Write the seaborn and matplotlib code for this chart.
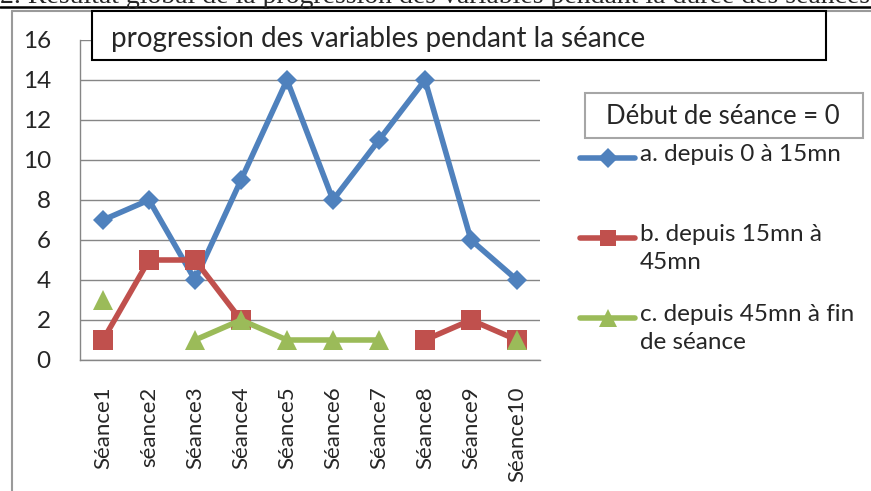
import numpy as np
import pandas as pd
import matplotlib
matplotlib.use('Agg')
import matplotlib.pyplot as plt
import seaborn as sns
from matplotlib.lines import Line2D
from matplotlib.patches import Rectangle

# data
seances = ['Séance1', 'séance2', 'Séance3', 'Séance4', 'Séance5',
           'Séance6', 'Séance7', 'Séance8', 'Séance9', 'Séance10']
serie_a = [7, 8, 4, 9, 14, 8, 11, 14, 6, 4]
serie_b = [1, 5, 5, 2, None, None, None, 1, 2, 1]
serie_c = [3, None, 1, 2, 1, 1, 1, None, None, 1]
noms = ['a. depuis 0 à 15mn', 'b. depuis 15mn à\n45mn', 'c. depuis 45mn à fin\nde séance']

couleurs = ['#4F81BD', '#C0504D', '#9BBB59']
marqueurs = ['D', 's', '^']
tailles = [10, 14, 15]

W, H = 871, 491
sns.set_style('white')
plt.rcParams['font.family'] = ['Lato', 'DejaVu Sans']


def fx(px):
    return px / W


def fy(py):
    return 1 - py / H


fig = plt.figure(figsize=(W / 100, H / 100), dpi=100)
ax = fig.add_axes([fx(80), fy(360), fx(540) - fx(80), fy(40) - fy(360)])

# one long table, segment ids split lines where values are missing
frames = []
for nom, vals in zip(noms, [serie_a, serie_b, serie_c]):
    d = pd.DataFrame({'x': np.arange(len(seances)), 'val': pd.array(vals, dtype='Float64').astype(float)})
    d['seg'] = d['val'].isna().cumsum()
    d['serie'] = nom
    frames.append(d.dropna())
df = pd.concat(frames, ignore_index=True)

for i, nom in enumerate(noms):
    sns.lineplot(data=df[df['serie'] == nom], x='x', y='val', units='seg', estimator=None,
                 color=couleurs[i], marker=marqueurs[i], markersize=tailles[i],
                 markeredgewidth=0, linewidth=4, ax=ax, zorder=3 + i, legend=False)

ax.set_xlim(-0.5, len(seances) - 0.5)
ax.set_ylim(0, 16)
ax.set_yticks(range(0, 17, 2))
ax.set_xticks(range(len(seances)))
ax.set_xticklabels(seances, rotation=90, fontsize=16)
ax.set_xticks(np.arange(-0.5, len(seances), 1), minor=True)
ax.tick_params(axis='x', which='major', length=0, pad=19)
ax.tick_params(axis='x', which='minor', length=8, width=1, color='#868686', direction='out')
ax.tick_params(axis='y', length=8, width=1, color='#868686', direction='out', pad=13, labelsize=17.5)
ax.set_xlabel('')
ax.set_ylabel('')
ax.grid(axis='y', color='#868686', linewidth=1)
ax.set_axisbelow(True)
for s in ['top', 'right']:
    ax.spines[s].set_visible(False)
for s in ['left', 'bottom']:
    ax.spines[s].set_color('#868686')
    ax.spines[s].set_linewidth(1)

# outer chart frame
fig.add_artist(Line2D([fx(12), fx(12)], [fy(11), 0], color='#9a9a9a', linewidth=1.5))
fig.add_artist(Line2D([fx(12), 1], [fy(11), fy(11)], color='#9a9a9a', linewidth=1.5))

# title box
fig.add_artist(Rectangle((fx(92), fy(60)), fx(826) - fx(92), fy(11) - fy(60),
                         facecolor='white', edgecolor='black', linewidth=1.5, zorder=10))
fig.text(fx(111), fy(39), 'progression des variables pendant la séance', fontsize=20,
         va='center', ha='left', zorder=11)

# page heading cut off at the top
fig.text(fx(0), fy(3), '2. Résultat global de la progression des variables pendant la durée des séances',
         fontsize=20, family='Liberation Serif', va='baseline', ha='left')
fig.add_artist(Line2D([0, 1], [fy(6.5), fy(6.5)], color='black', linewidth=1.8))

# legend
fig.add_artist(Rectangle((fx(585), fy(138)), fx(863) - fx(585), fy(93) - fy(138),
                         facecolor='white', edgecolor='#a6a6a6', linewidth=1.5))
fig.text(fx(606), fy(117), 'Début de séance = 0', fontsize=18.5, va='center', ha='left')
leg_y = [158, 238, 318]
leg_tailles = [10, 12, 13]
for i, nom in enumerate(noms):
    fig.add_artist(Line2D([fx(580), fx(607.5), fx(635)], [fy(leg_y[i])] * 3, color=couleurs[i],
                          linewidth=4, marker=marqueurs[i], markersize=leg_tailles[i],
                          markeredgewidth=0, markevery=[1], solid_capstyle='round'))
    fig.text(fx(640), fy(leg_y[i] - 14), nom, fontsize=17.5, va='top', ha='left', linespacing=1.4)

fig.savefig('out.png', dpi=100)
plt.close()
